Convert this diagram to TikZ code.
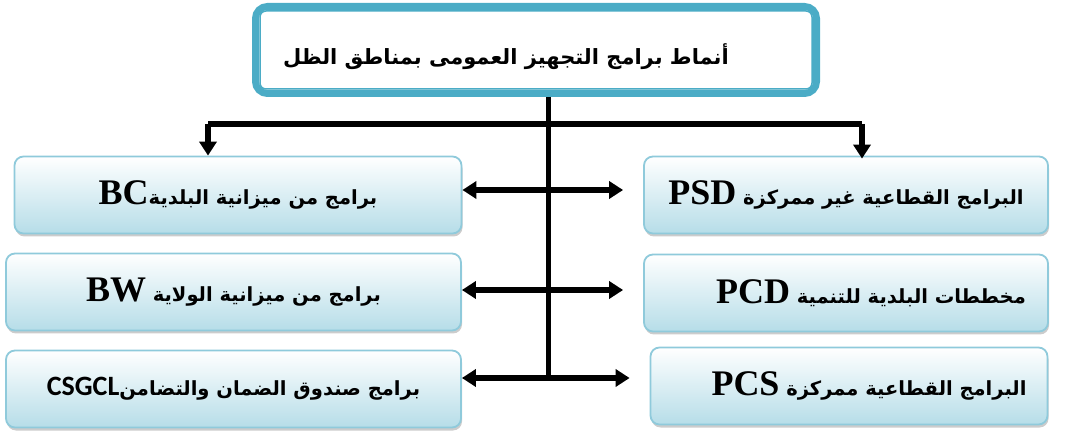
\documentclass[tikz,border=0pt]{standalone}
\usepackage{fontspec}
\setmainfont{Liberation Serif}
\newfontfamily\arabicfont[Script=Arabic]{DejaVu Sans}
\newfontfamily\latinsans{Carlito}
\TeXXeTstate=1
\usetikzlibrary{arrows.meta,shadows,positioning}
\definecolor{titleblue}{HTML}{4BACC6}
\definecolor{boxline}{HTML}{8FCADB}
\definecolor{boxfill}{HTML}{B6DDE8}
\newcommand{\ltr}[1]{\beginL{\rmfamily\bfseries\fontsize{36}{38}\selectfont #1}\endL}
\tikzset{
  heading/.style  = {draw=titleblue, line width=7pt, rounded corners=12pt, fill=white,
                     minimum width=561pt, minimum height=87pt,
                     font=\arabicfont\bfseries\fontsize{21}{26}\selectfont},
  box/.style      = {draw=boxline, line width=1.8pt, rounded corners=9pt,
                     top color=white, bottom color=boxfill, minimum height=77pt,
                     drop shadow={shadow xshift=1pt, shadow yshift=-3pt, fill=gray!80, opacity=.5},
                     font=\arabicfont\bfseries\fontsize{19.5}{22}\selectfont},
  left box/.style  = {box, minimum width=455pt},
  right box/.style = {box, minimum width=404pt},
  link/.style     = {line width=5.5pt, -{Triangle[length=14pt,width=17pt]}}
}

\begin{document}
\begin{tikzpicture}[x=1pt, y=1pt]
\useasboundingbox (0,0) rectangle (1073,439);

% titre
\node[heading] (top) at (536,389) {\raisebox{-7pt}[\height][\depth]{\beginR أنماط برامج التجهيز العمومى بمناطق الظل\endR}\hspace*{60pt}};
\draw[titleblue, line width=1.5pt, rounded corners=6pt]
  ([shift={(8pt,-8pt)}]top.north west) rectangle ([shift={(-8pt,8pt)}]top.south east);

% les deux colonnes
\node[left box, minimum width=447pt] (bc) at (238,244) {\beginR برامج من ميزانية البلدية\ltr{BC}\endR};
\node[left box, below of=bc, node distance=97pt, xshift=-4.5pt] (bw) {\beginR برامج من ميزانية الولاية \ltr{BW}\endR};
\node[left box, below of=bw, node distance=97pt] (csgcl) {\beginR برامج صندوق الضمان والتضامن\beginL{\latinsans\bfseries\fontsize{28}{30}\selectfont CSGCL}\endL\endR};

\node[right box] (psd) at (846,244) {\beginR البرامج القطاعية غير ممركزة \ltr{PSD}\endR};
\node[right box, below of=psd, node distance=98pt] (pcd) {\hspace*{50pt}\beginR مخططات البلدية للتنمية \ltr{PCD}\endR};
\node[right box, below of=pcd, node distance=93pt, xshift=3pt, minimum width=397pt] (pcs) {\hspace*{40pt}\beginR البرامج القطاعية ممركزة \ltr{PCS}\endR};

% connecteurs
\coordinate (fork) at (548,315);
\coordinate (lfork) at (208,315);
\coordinate (rfork) at (862,315);
\coordinate (row1) at (548,249);
\coordinate (row2) at (548,149);
\coordinate (row3) at (548,61);

\draw[line width=5pt] (top.south -| fork) -- (row3);
\draw[line width=5.5pt] (lfork) -- (rfork);
\draw[link] (lfork) -- (lfork |- bc.north);
\draw[link] (rfork) -- ([yshift=-3pt]rfork |- psd.north);
\foreach \l/\r/\n in {bc/psd/1, bw/pcd/2, csgcl/pcs/3} {
  \draw[link] (row\n) -- (row\n -| \l.east);
  \draw[link] (row\n) -- ([xshift=-20pt]row\n -| \r.west);
}
\end{tikzpicture}
\end{document}
